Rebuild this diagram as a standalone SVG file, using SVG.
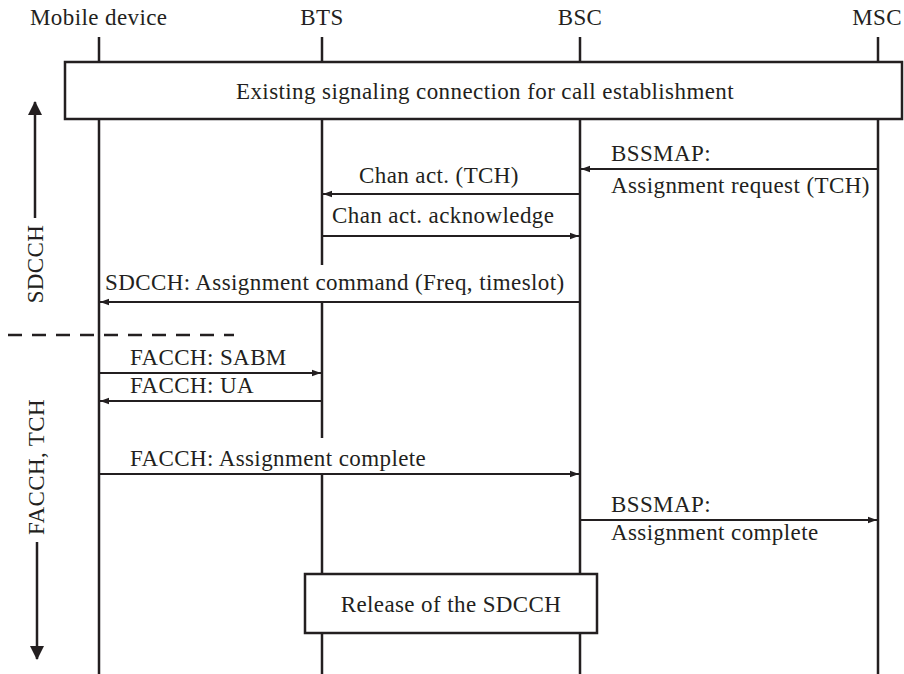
<svg xmlns="http://www.w3.org/2000/svg" width="904" height="674" viewBox="0 0 904 674">
  <style>
    text { font-size: 23px; letter-spacing: 0.4px; fill: #231f20; }
    .mid { text-anchor: middle; }
    .life { stroke: #231f20; stroke-width: 2.5; fill: none; }
    .msg { stroke: #231f20; stroke-width: 2; fill: none; }
    .box { stroke: #231f20; stroke-width: 2.5; fill: #fff; }
    .phase { stroke: #231f20; stroke-width: 2.5; fill: none; }
  </style>
  <defs>
    <marker id="head" markerWidth="10" markerHeight="8" refX="9" refY="4" orient="auto" markerUnits="userSpaceOnUse">
      <path d="M0,0.8 L9,4 L0,7.2 Z" fill="#231f20"/>
    </marker>
    <marker id="bigHead" markerWidth="14" markerHeight="16" refX="13" refY="7" orient="auto" markerUnits="userSpaceOnUse">
      <path d="M0,0 L14,7 L0,14 Z" fill="#231f20"/>
    </marker>
  </defs>

  <g font-family="'Liberation Serif', Tinos, 'Times New Roman', 'DejaVu Serif', serif">
  <!-- entity headers -->
  <g id="header-mobile"><text x="30" y="25">Mobile device</text></g>
  <g id="header-bts"><text class="mid" x="322" y="25">BTS</text></g>
  <g id="header-bsc"><text class="mid" x="580" y="25">BSC</text></g>
  <g id="header-msc"><text x="902" y="25" text-anchor="end">MSC</text></g>

  <!-- lifelines -->
  <g id="lifelines">
    <line class="life" x1="99" y1="37" x2="99" y2="674"/>
    <line class="life" x1="322" y1="37" x2="322" y2="265"/>
    <line class="life" x1="322" y1="301" x2="322" y2="438"/>
    <line class="life" x1="322" y1="474" x2="322" y2="674"/>
    <line class="life" x1="580" y1="37" x2="580" y2="674"/>
    <line class="life" x1="878" y1="37" x2="878" y2="674"/>
  </g>

  <!-- existing connection spanning all entities -->
  <g id="existing-connection">
    <rect class="box" x="65" y="62" width="837" height="57"/>
    <text class="mid" x="485" y="99">Existing signaling connection for call establishment</text>
  </g>

  <!-- phase indicators on the left -->
  <g id="phase-sdcch">
    <line class="phase" x1="35" y1="218" x2="35" y2="102" marker-end="url(#bigHead)"/>
    <text class="mid" transform="translate(43,264) rotate(-90)">SDCCH</text>
  </g>
  <g id="phase-separator">
    <line x1="8" y1="335" x2="234" y2="335" stroke="#231f20" stroke-width="2.5" stroke-dasharray="14 10"/>
  </g>
  <g id="phase-facch-tch">
    <text class="mid" transform="translate(44,467) rotate(-90)">FACCH, TCH</text>
    <line class="phase" x1="37" y1="542" x2="37" y2="659" marker-end="url(#bigHead)"/>
  </g>

  <!-- message connectors -->
  <g id="connectors">
    <line class="msg" x1="878" y1="169" x2="581" y2="169" marker-end="url(#head)"/>
    <line class="msg" x1="580" y1="194" x2="323" y2="194" marker-end="url(#head)"/>
    <line class="msg" x1="322" y1="236" x2="579" y2="236" marker-end="url(#head)"/>
    <line class="msg" x1="580" y1="302" x2="100" y2="302" marker-end="url(#head)"/>
    <line class="msg" x1="99" y1="373" x2="321" y2="373" marker-end="url(#head)"/>
    <line class="msg" x1="322" y1="401" x2="100" y2="401" marker-end="url(#head)"/>
    <line class="msg" x1="99" y1="474" x2="579" y2="474" marker-end="url(#head)"/>
    <line class="msg" x1="580" y1="520" x2="877" y2="520" marker-end="url(#head)"/>
  </g>

  <!-- message labels -->
  <g id="labels">
    <text x="611" y="161">BSSMAP:</text>
    <text x="611" y="193">Assignment request (TCH)</text>
    <text x="359" y="183">Chan act. (TCH)</text>
    <text x="332" y="223">Chan act. acknowledge</text>
    <text x="105" y="290">SDCCH: Assignment command (Freq, timeslot)</text>
    <text x="130" y="365">FACCH: SABM</text>
    <text x="130" y="393">FACCH: UA</text>
    <text x="130" y="466">FACCH: Assignment complete</text>
    <text x="611" y="512">BSSMAP:</text>
    <text x="611" y="540">Assignment complete</text>
  </g>

  <!-- release of the SDCCH -->
  <g id="release-sdcch">
    <rect class="box" x="305" y="574" width="292" height="59"/>
    <text class="mid" x="451" y="612">Release of the SDCCH</text>
  </g>
  </g>
</svg>
